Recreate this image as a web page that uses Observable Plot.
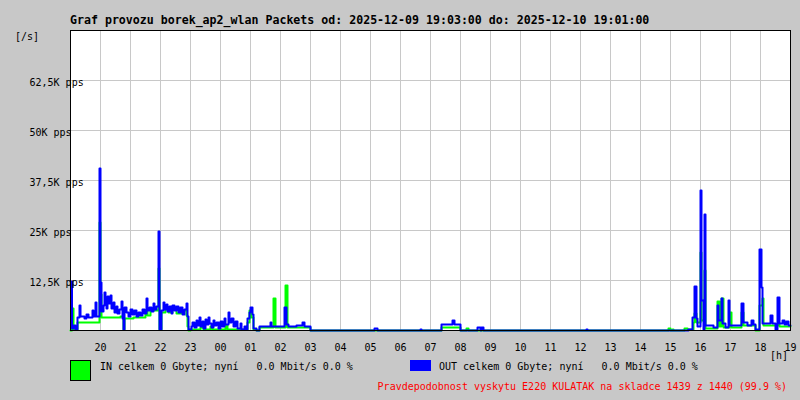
<!DOCTYPE html>
<html><head><meta charset="utf-8">
<script src="https://cdn.jsdelivr.net/npm/d3@7"></script>
<script src="https://cdn.jsdelivr.net/npm/@observablehq/plot@0.6"></script>
<style>
html,body{margin:0;padding:0;background:#c8c8c8;}
#chart{width:800px;height:400px;}
</style></head><body><div id="chart"></div>
<script>
// time = minutes since 19:00 (2025-12-09), value = packets per second
const outMinutes = [0,3,6,10,14,18,20,28,32,36,44,46,50,52,58,60,62,66,68,70,72,74,76,80,82,86,88,92,94,98,102,104,106,108,112,116,120,124,128,132,136,140,144,148,152,154,158,162,166,168,172,176,178,182,186,188,192,194,198,202,204,208,212,216,220,224,228,232,234,236,242,244,248,252,254,258,260,264,266,270,272,276,278,282,286,288,292,296,300,304,308,310,316,318,322,326,330,334,340,342,348,352,354,358,360,364,366,372,378,400,402,428,432,436,452,464,468,480,608,614,700,702,742,764,768,780,814,820,822,826,1032,1034,1236,1244,1248,1252,1254,1260,1262,1266,1268,1270,1286,1294,1296,1302,1304,1310,1316,1318,1342,1346,1354,1362,1366,1370,1378,1382,1384,1400,1404,1410,1414,1418,1424,1428,1432,1436,1440];
const outValues = [12250,500,1250,250,3250,6250,3500,3000,4000,3250,5000,3500,7000,3500,40500,12000,4750,6250,9500,7500,5500,8500,6750,8750,5500,7000,4500,6000,4250,5250,7250,3000,250,5750,4500,3500,5250,4000,5000,3500,4500,3750,5250,4250,8000,5000,5750,4750,6750,5250,6000,24750,250,5000,7000,5250,6500,4750,6000,4250,6250,5000,6000,4500,5750,4000,5250,6750,3500,250,1000,2000,750,2500,1250,3250,1000,2250,500,2750,1500,3250,1750,750,2500,1250,2000,500,2250,1000,3000,1500,4500,2000,3000,1000,2250,500,1750,250,1000,250,3000,4500,5750,4000,500,0,1000,2000,1000,5750,1500,1000,1250,2000,1000,0,500,0,250,0,1500,2500,1500,0,750,0,750,0,250,0,250,3250,11000,3000,1000,35000,7500,250,29000,1250,750,6250,2500,8000,1750,750,7500,1250,6750,2000,1250,2500,1500,250,20250,10750,1750,3750,1750,250,8250,1750,2500,1500,2250,1250,1250];

const inMinutes = [0,3,6,14,58,60,62,100,106,108,126,150,154,160,176,178,182,190,196,204,212,222,232,234,236,240,260,266,280,284,310,314,354,358,362,366,372,378,406,410,430,434,480,742,780,792,796,1196,1200,1204,1206,1228,1234,1246,1248,1252,1260,1262,1268,1270,1294,1298,1302,1306,1318,1322,1342,1346,1370,1378,1384,1386,1414,1418,1440];
const inValues = [0,5500,250,2000,27000,9000,3250,3500,250,3000,3250,5000,3750,5000,15500,250,4500,5750,4500,5250,4250,5000,3750,1000,0,250,750,250,1000,250,1250,250,2000,5000,3250,250,0,750,8000,750,11250,750,0,750,0,500,0,500,0,250,0,500,250,2000,4250,2000,19500,2500,15000,500,7250,1000,8000,750,4500,750,4500,1250,0,6250,8000,1250,1750,1000,1000];

const hourTicks = [60,120,180,240,300,360,420,480,540,600,660,720,780,840,900,960,1020,1080,1140,1200,1260,1320,1380,1440];
const hourLabels = ["20","21","22","23","00","01","02","03","04","05","06","07","08","09","10","11","12","13","14","15","16","17","18","19"];
const yTicks = [12500,25000,37500,50000,62500];
const yLabels = ["12,5K pps","25K pps","37,5K pps","50K pps","62,5K pps"];

const titleText = "Graf provozu borek_ap2_wlan Packets od: 2025-12-09 19:03:00 do: 2025-12-10 19:01:00";
const inLegend = "IN celkem 0 Gbyte; nyní   0.0 Mbit/s 0.0 %";
const outLegend = "OUT celkem 0 Gbyte; nyní   0.0 Mbit/s 0.0 %";
const footerText = "Pravdepodobnost vyskytu E220 KULATAK na skladce 1439 z 1440 (99.9 %)";

const outData = outMinutes.map((t, i) => ({t, v: outValues[i]}));
const inData = inMinutes.map((t, i) => ({t, v: inValues[i]}));

const FONT = "DejaVu Sans Mono";
const plot = Plot.plot({
  width: 800, height: 400,
  marginLeft: 70, marginRight: 10, marginTop: 30, marginBottom: 70,
  style: {background: "#c8c8c8", fontFamily: FONT, fontSize: "10px", color: "black"},
  x: {domain: [0, 1440]},
  y: {domain: [0, 75000], axis: null},
  marks: [
    Plot.frame({fill: "white"}),
    Plot.gridX(hourTicks.slice(0, -1), {stroke: "#c8c8c8", strokeOpacity: 1}),
    Plot.gridY(yTicks, {stroke: "#c8c8c8", strokeOpacity: 1}),
    Plot.line(inData, {x: "t", y: "v", curve: "step-after", stroke: "#00ff00", strokeWidth: 2}),
    Plot.line(outData, {x: "t", y: "v", curve: "step-after", stroke: "#0000ff", strokeWidth: 2}),
    Plot.frame({stroke: "black"}),
    Plot.axisX({ticks: hourTicks, tickSize: 0, tickPadding: 13.5, tickFormat: d => hourLabels[hourTicks.indexOf(d)], label: null, fontSize: 10}),
    Plot.text(yTicks, {y: d => d, text: d => yLabels[yTicks.indexOf(d)], frameAnchor: "left", dx: -41, dy: 2, textAnchor: "start", fill: "black", fontSize: 10})
  ]
});
document.getElementById("chart").appendChild(plot);

const svg = d3.select(plot);
function addText(x, y, txt, opts = {}) {
  svg.append("text")
    .attr("x", x).attr("y", y)
    .attr("font-family", FONT)
    .attr("font-size", opts.size || 10)
    .attr("font-weight", opts.weight || "normal")
    .attr("fill", opts.fill || "black")
    .attr("text-anchor", opts.anchor || "start")
    .style("white-space", "pre")
    .attr("xml:space", "preserve")
    .text(txt);
}
addText(70, 24, titleText, {size: 11.6, weight: "bold"});
addText(15, 39.5, "[/s]");
addText(770, 359, "[h]");
svg.append("rect").attr("x", 70.5).attr("y", 360.5).attr("width", 20).attr("height", 20)
  .attr("fill", "#00ff00").attr("stroke", "black");
addText(100, 370, inLegend);
svg.append("rect").attr("x", 410).attr("y", 360).attr("width", 21).attr("height", 11)
  .attr("fill", "#0000ff");
addText(439, 370, outLegend);
addText(787, 390, footerText, {fill: "#ff0000", anchor: "end"});
</script></body></html>
